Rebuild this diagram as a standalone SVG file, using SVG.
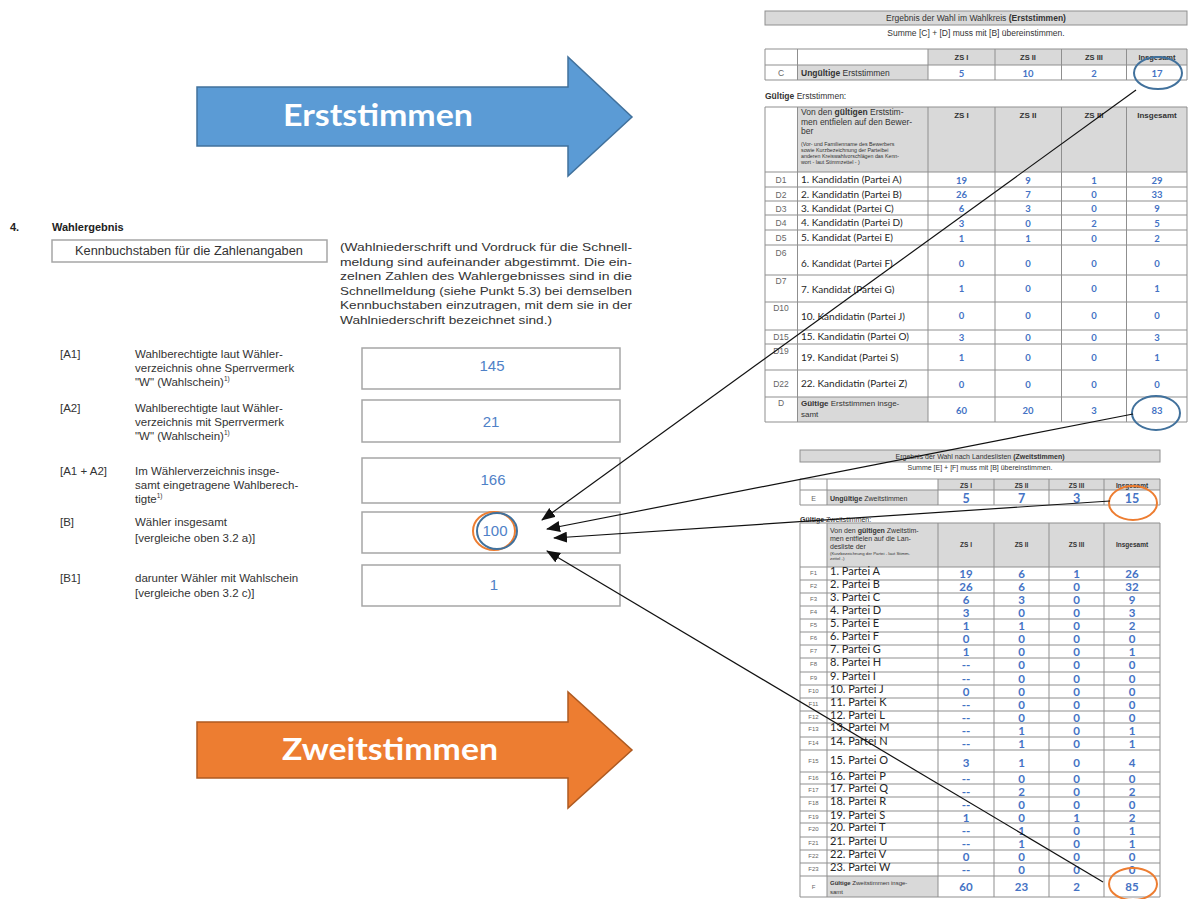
<svg xmlns="http://www.w3.org/2000/svg" width="1192" height="899" viewBox="0 0 1192 899">
<style>
.bg{fill:#ffffff}
.ar{font-family:Lato,'Open Sans',sans-serif;font-weight:bold;fill:#ffffff;text-anchor:middle}
.fs{font-family:'Liberation Sans',Arial,sans-serif;fill:#333333}
.fb{font-family:'Liberation Sans',Arial,sans-serif;fill:#222222;font-weight:bold}
.box{fill:#ffffff;stroke:#a6a6a6;stroke-width:1.5}
.val{font-family:'Liberation Sans',Arial,sans-serif;fill:#4f81c7;font-size:15px;text-anchor:middle}
.hdr{fill:#d9d9d9}
.grid{fill:none;stroke:#8f8f8f;stroke-width:1}
.tt{font-family:'Liberation Sans',Arial,sans-serif;fill:#333333;text-anchor:middle}
.lab{font-family:'Liberation Sans',Arial,sans-serif;fill:#666666;text-anchor:middle}
.nm{font-family:Lato,'Liberation Sans',sans-serif;fill:#262626}
.num{font-family:Lato,'Liberation Sans',sans-serif;font-weight:bold;fill:#4472c4;text-anchor:middle}
.ch{font-family:'Liberation Sans',Arial,sans-serif;font-weight:bold;fill:#333333;text-anchor:middle}
.blue{fill:none;stroke:#41719c;stroke-width:2}
.orange{fill:none;stroke:#ed7d31;stroke-width:2}
.con{fill:none;stroke:#111111;stroke-width:1.2;marker-end:url(#ah)}
</style>
<defs>
<marker id="ah" markerUnits="userSpaceOnUse" markerWidth="14" markerHeight="11" refX="13" refY="5.5" orient="auto">
<path d="M0,0 L14,5.5 L0,11 z" fill="#111111"/>
</marker>
</defs>
<rect class="bg" x="0" y="0" width="1192" height="899"/>

<g id="arrow-erststimmen">
<polygon points="197,87 568,87 568,57 632,117 568,176 568,146 197,146" fill="#5b9bd5" stroke="#41719c" stroke-width="1.5"/>
<text class="ar" x="378" y="126" font-size="30" textLength="190" lengthAdjust="spacingAndGlyphs">Erststimmen</text>
</g>

<g id="arrow-zweitstimmen">
<polygon points="197,722 568,722 568,692 632,750 568,808 568,778 197,778" fill="#ed7d31" stroke="#ae5a21" stroke-width="1.5"/>
<text class="ar" x="390" y="760" font-size="30" textLength="216" lengthAdjust="spacingAndGlyphs">Zweitstimmen</text>
</g>

<g id="form-wahlergebnis">
<text class="fb" x="10" y="231" font-size="11">4.</text>
<text class="fb" x="52" y="231" font-size="11">Wahlergebnis</text>
<rect x="52" y="240" width="275" height="22" fill="#ffffff" stroke="#a6a6a6" stroke-width="1.5"/>
<text class="fs" x="75" y="255" font-size="12" textLength="228" lengthAdjust="spacingAndGlyphs">Kennbuchstaben für die Zahlenangaben</text>
<g class="fs" font-size="11.5">
<text x="340" y="251" textLength="292" lengthAdjust="spacingAndGlyphs">(Wahlniederschrift und Vordruck für die Schnell-</text>
<text x="340" y="265.5" textLength="292" lengthAdjust="spacingAndGlyphs">meldung sind aufeinander abgestimmt. Die ein-</text>
<text x="340" y="280" textLength="292" lengthAdjust="spacingAndGlyphs">zelnen Zahlen des Wahlergebnisses sind in die</text>
<text x="340" y="294.5" textLength="292" lengthAdjust="spacingAndGlyphs">Schnellmeldung (siehe Punkt 5.3) bei demselben</text>
<text x="340" y="309" textLength="292" lengthAdjust="spacingAndGlyphs">Kennbuchstaben einzutragen, mit dem sie in der</text>
<text x="340" y="323.5" textLength="212" lengthAdjust="spacingAndGlyphs">Wahlniederschrift bezeichnet sind.)</text>
</g>
<g class="fs" font-size="11.5">
<text x="60" y="358">[A1]</text>
<text x="135" y="358">Wahlberechtigte laut Wähler-</text>
<text x="135" y="372">verzeichnis ohne Sperrvermerk</text>
<text x="135" y="386">"W" (Wahlschein)<tspan font-size="6.5" dy="-5">1)</tspan></text>
<text x="60" y="412">[A2]</text>
<text x="135" y="412">Wahlberechtigte laut Wähler-</text>
<text x="135" y="426">verzeichnis mit Sperrvermerk</text>
<text x="135" y="440">"W" (Wahlschein)<tspan font-size="6.5" dy="-5">1)</tspan></text>
<text x="60" y="475">[A1 + A2]</text>
<text x="135" y="475">Im Wählerverzeichnis insge-</text>
<text x="135" y="489">samt eingetragene Wahlberech-</text>
<text x="135" y="503">tigte<tspan font-size="6.5" dy="-5">1)</tspan></text>
<text x="60" y="526">[B]</text>
<text x="135" y="526">Wähler insgesamt</text>
<text x="135" y="542">[vergleiche oben 3.2 a)]</text>
<text x="60" y="582">[B1]</text>
<text x="135" y="582">darunter Wähler mit Wahlschein</text>
<text x="135" y="597">[vergleiche oben 3.2 c)]</text>
</g>
<rect class="box" x="362" y="348" width="258" height="41"/>
<rect class="box" x="362" y="400" width="258" height="42"/>
<rect class="box" x="362" y="458" width="258" height="45"/>
<rect class="box" x="362" y="512" width="258" height="41"/>
<rect class="box" x="362" y="565" width="258" height="41"/>
<text class="val" x="492" y="371">145</text>
<text class="val" x="491" y="427">21</text>
<text class="val" x="493" y="485">166</text>
<text class="val" x="495" y="536">100</text>
<text class="val" x="494" y="590">1</text>
</g>

<g id="table-erststimmen">
<rect x="765" y="11" width="422" height="14" fill="#d9d9d9" stroke="#8f8f8f"/>
<text class="tt" x="976" y="21" font-size="8.5">Ergebnis der Wahl im Wahlkreis <tspan font-weight="bold">(Erststimmen)</tspan></text>
<text class="tt" x="976" y="35.5" font-size="8.5">Summe [C] + [D] muss mit [B] übereinstimmen.</text>
<rect class="hdr" x="928" y="49" width="259" height="16"/>
<rect class="hdr" x="797.5" y="65" width="130.5" height="15"/>
<path class="grid" d="M765,49H1187M765,65H1187M765,80H1187M765,49V80M797.5,49V80M928,49V80M995,49V80M1061.5,49V80M1126.5,49V80M1187,49V80"/>
<g class="ch" font-size="7.5">
<text x="961.5" y="60">ZS I</text><text x="1028" y="60">ZS II</text><text x="1094" y="60">ZS III</text><text x="1157" y="60">Insgesamt</text>
</g>
<text class="lab" x="781" y="75.5" font-size="8.5">C</text>
<text class="fs" x="801" y="75.5" font-size="8.5"><tspan font-weight="bold">Ungültige</tspan> Erststimmen</text>
<text class="num" y="76.5" font-size="9.5"><tspan x="961.5">5</tspan><tspan x="1028">10</tspan><tspan x="1094">2</tspan><tspan x="1157">17</tspan></text>

<text class="fs" x="765" y="99" font-size="8.5"><tspan font-weight="bold">Gültige</tspan> Erststimmen:</text>
<rect class="hdr" x="797.5" y="107" width="389.5" height="65"/>
<rect class="hdr" x="797.5" y="397" width="130.5" height="25"/>
<path class="grid" d="M765,107H1187M765,172H1187M765,187H1187M765,201H1187M765,215H1187M765,230H1187M765,245H1187M765,275H1187M765,302H1187M765,330H1187M765,344H1187M765,370H1187M765,397H1187M765,422H1187M765,107V422M797.5,107V422M928,107V422M995,107V422M1061.5,107V422M1126.5,107V422M1187,107V422"/>
<g class="fs" font-size="8.5">
<text x="801" y="115">Von den <tspan font-weight="bold">gültigen</tspan> Erststim-</text>
<text x="801" y="124.5">men entfielen auf den Bewer-</text>
<text x="801" y="134">ber</text>
</g>
<g class="fs" font-size="5.3">
<text x="801" y="146">(Vor- und Familienname des Bewerbers</text>
<text x="801" y="152">sowie Kurzbezeichnung der Parteibei</text>
<text x="801" y="158">anderen Kreiswahlvorschlägen das Kenn-</text>
<text x="801" y="164">wort - laut Stimmzettel - )</text>
</g>
<g class="ch" font-size="8">
<text x="961.5" y="118">ZS I</text><text x="1028" y="118">ZS II</text><text x="1094" y="118">ZS III</text><text x="1157" y="118">Insgesamt</text>
</g>
<g class="lab" font-size="8.5">
<text x="781" y="183">D1</text><text x="781" y="197.5">D2</text><text x="781" y="211.5">D3</text><text x="781" y="226">D4</text><text x="781" y="241">D5</text>
<text x="781" y="256">D6</text><text x="781" y="283.5">D7</text><text x="781" y="311">D10</text><text x="781" y="340">D15</text><text x="781" y="353.5">D19</text><text x="781" y="386.5">D22</text><text x="781" y="406">D</text>
</g>
<g class="nm" font-size="10">
<text x="801" y="183">1. Kandidatin (Partei A)</text>
<text x="801" y="197.5">2. Kandidatin (Partei B)</text>
<text x="801" y="211.5">3. Kandidat (Partei C)</text>
<text x="801" y="226">4. Kandidatin (Partei D)</text>
<text x="801" y="241">5. Kandidat (Partei E)</text>
<text x="801" y="267">6. Kandidat (Partei F)</text>
<text x="801" y="292.5">7. Kandidat (Partei G)</text>
<text x="801" y="320">10. Kandidatin (Partei J)</text>
<text x="801" y="340">15. Kandidatin (Partei O)</text>
<text x="801" y="361">19. Kandidat (Partei S)</text>
<text x="801" y="386.5">22. Kandidatin (Partei Z)</text>
</g>
<text class="fs" x="801" y="406" font-size="8"><tspan font-weight="bold">Gültige</tspan> Erststimmen insge-</text>
<text class="fs" x="801" y="417" font-size="8">samt</text>
<g class="num" font-size="9.5">
<text y="183.5"><tspan x="961.5">19</tspan><tspan x="1028">9</tspan><tspan x="1094">1</tspan><tspan x="1157">29</tspan></text>
<text y="198"><tspan x="961.5">26</tspan><tspan x="1028">7</tspan><tspan x="1094">0</tspan><tspan x="1157">33</tspan></text>
<text y="212"><tspan x="961.5">6</tspan><tspan x="1028">3</tspan><tspan x="1094">0</tspan><tspan x="1157">9</tspan></text>
<text y="226.5"><tspan x="961.5">3</tspan><tspan x="1028">0</tspan><tspan x="1094">2</tspan><tspan x="1157">5</tspan></text>
<text y="241.5"><tspan x="961.5">1</tspan><tspan x="1028">1</tspan><tspan x="1094">0</tspan><tspan x="1157">2</tspan></text>
<text y="266.5"><tspan x="961.5">0</tspan><tspan x="1028">0</tspan><tspan x="1094">0</tspan><tspan x="1157">0</tspan></text>
<text y="292"><tspan x="961.5">1</tspan><tspan x="1028">0</tspan><tspan x="1094">0</tspan><tspan x="1157">1</tspan></text>
<text y="319"><tspan x="961.5">0</tspan><tspan x="1028">0</tspan><tspan x="1094">0</tspan><tspan x="1157">0</tspan></text>
<text y="340.5"><tspan x="961.5">3</tspan><tspan x="1028">0</tspan><tspan x="1094">0</tspan><tspan x="1157">3</tspan></text>
<text y="360.5"><tspan x="961.5">1</tspan><tspan x="1028">0</tspan><tspan x="1094">0</tspan><tspan x="1157">1</tspan></text>
<text y="387.5"><tspan x="961.5">0</tspan><tspan x="1028">0</tspan><tspan x="1094">0</tspan><tspan x="1157">0</tspan></text>
<text y="413.5"><tspan x="961.5">60</tspan><tspan x="1028">20</tspan><tspan x="1094">3</tspan><tspan x="1157">83</tspan></text>
</g>
</g>

<g id="table-zweitstimmen">
<rect x="800" y="450" width="360" height="12" fill="#d9d9d9" stroke="#8f8f8f"/>
<text class="tt" x="980" y="459" font-size="7">Ergebnis der Wahl nach Landeslisten <tspan font-weight="bold">(Zweitstimmen)</tspan></text>
<text class="tt" x="980" y="469.5" font-size="7">Summe [E] + [F] muss mit [B] übereinstimmen.</text>
<rect class="hdr" x="938" y="479" width="222" height="11"/>
<rect class="hdr" x="827" y="490" width="111" height="15"/>
<path class="grid" d="M800,479H1160M800,490H1160M800,505H1160M800,479V505M827,479V505M938,479V505M994,479V505M1049,479V505M1104,479V505M1160,479V505"/>
<g class="ch" font-size="6.5">
<text x="966" y="487.5">ZS I</text><text x="1021.5" y="487.5">ZS II</text><text x="1076.5" y="487.5">ZS III</text><text x="1132" y="487.5">Insgesamt</text>
</g>
<text class="lab" x="813.5" y="500.5" font-size="7">E</text>
<text class="fs" x="830" y="500.5" font-size="7"><tspan font-weight="bold">Ungültige</tspan> Zweitstimmen</text>
<text class="num" y="502.5" font-size="12.5"><tspan x="966">5</tspan><tspan x="1021.5">7</tspan><tspan x="1076.5">3</tspan><tspan x="1132">15</tspan></text>

<text class="fs" x="800" y="522" font-size="7"><tspan font-weight="bold">Gültige</tspan> Zweitstimmen:</text>
<rect class="hdr" x="827" y="523" width="333" height="44"/>
<rect class="hdr" x="827" y="876" width="111" height="21"/>
<path class="grid" d="M800,523H1160M800,567H1160M800,580H1160M800,593H1160M800,606H1160M800,619H1160M800,632H1160M800,645H1160M800,658H1160M800,672H1160M800,685H1160M800,698H1160M800,711H1160M800,723H1160M800,737H1160M800,750H1160M800,772H1160M800,784H1160M800,797H1160M800,811H1160M800,823H1160M800,837H1160M800,850H1160M800,863H1160M800,876H1160M800,897H1160M800,523V897M827,523V897M938,523V897M994,523V897M1049,523V897M1104,523V897M1160,523V897"/>
<g class="fs" font-size="7">
<text x="830" y="532.5">Von den <tspan font-weight="bold">gültigen</tspan> Zweitstim-</text>
<text x="830" y="540.5">men entfielen auf die Lan-</text>
<text x="830" y="548.5">desliste der</text>
</g>
<g class="fs" font-size="4.3">
<text x="830" y="554.5">(Kurzbezeichnung der Partei - laut Stimm-</text>
<text x="830" y="559.5">zettel -)</text>
</g>
<g class="ch" font-size="6.5">
<text x="966" y="547">ZS I</text><text x="1021.5" y="547">ZS II</text><text x="1076.5" y="547">ZS III</text><text x="1132" y="547">Insgesamt</text>
</g>
<g class="lab" font-size="6">
<text x="813.5" y="575">F1</text><text x="813.5" y="588">F2</text><text x="813.5" y="601">F3</text><text x="813.5" y="614">F4</text><text x="813.5" y="627">F5</text><text x="813.5" y="640">F6</text><text x="813.5" y="653">F7</text><text x="813.5" y="666">F8</text><text x="813.5" y="680">F9</text><text x="813.5" y="693">F10</text><text x="813.5" y="706">F11</text><text x="813.5" y="719">F12</text><text x="813.5" y="731">F13</text><text x="813.5" y="745">F14</text><text x="813.5" y="763">F15</text><text x="813.5" y="780">F16</text><text x="813.5" y="792">F17</text><text x="813.5" y="805">F18</text><text x="813.5" y="819">F19</text><text x="813.5" y="831">F20</text><text x="813.5" y="845">F21</text><text x="813.5" y="858">F22</text><text x="813.5" y="871">F23</text><text x="813.5" y="889">F</text>
</g>
<g class="nm" font-size="11">
<text x="830" y="575">1. Partei A</text><text x="830" y="588">2. Partei B</text><text x="830" y="601">3. Partei C</text><text x="830" y="614">4. Partei D</text><text x="830" y="627">5. Partei E</text><text x="830" y="640">6. Partei F</text><text x="830" y="653">7. Partei G</text><text x="830" y="666">8. Partei H</text><text x="830" y="680">9. Partei I</text><text x="830" y="693">10. Partei J</text><text x="830" y="706">11. Partei K</text><text x="830" y="719">12. Partei L</text><text x="830" y="731">13. Partei M</text><text x="830" y="745">14. Partei N</text><text x="830" y="764">15. Partei O</text><text x="830" y="780">16. Partei P</text><text x="830" y="792">17. Partei Q</text><text x="830" y="805">18. Partei R</text><text x="830" y="819">19. Partei S</text><text x="830" y="831">20. Partei T</text><text x="830" y="845">21. Partei U</text><text x="830" y="858">22. Partei V</text><text x="830" y="871">23. Partei W</text>
</g>
<text class="fs" x="830" y="885" font-size="6"><tspan font-weight="bold">Gültige</tspan> Zweitstimmen insge-</text>
<text class="fs" x="830" y="894" font-size="6">samt</text>
<g class="num" font-size="11.5">
<text y="578"><tspan x="966">19</tspan><tspan x="1021.5">6</tspan><tspan x="1076.5">1</tspan><tspan x="1132">26</tspan></text>
<text y="591"><tspan x="966">26</tspan><tspan x="1021.5">6</tspan><tspan x="1076.5">0</tspan><tspan x="1132">32</tspan></text>
<text y="604"><tspan x="966">6</tspan><tspan x="1021.5">3</tspan><tspan x="1076.5">0</tspan><tspan x="1132">9</tspan></text>
<text y="617"><tspan x="966">3</tspan><tspan x="1021.5">0</tspan><tspan x="1076.5">0</tspan><tspan x="1132">3</tspan></text>
<text y="630"><tspan x="966">1</tspan><tspan x="1021.5">1</tspan><tspan x="1076.5">0</tspan><tspan x="1132">2</tspan></text>
<text y="643"><tspan x="966">0</tspan><tspan x="1021.5">0</tspan><tspan x="1076.5">0</tspan><tspan x="1132">0</tspan></text>
<text y="656"><tspan x="966">1</tspan><tspan x="1021.5">0</tspan><tspan x="1076.5">0</tspan><tspan x="1132">1</tspan></text>
<text y="669"><tspan x="966">--</tspan><tspan x="1021.5">0</tspan><tspan x="1076.5">0</tspan><tspan x="1132">0</tspan></text>
<text y="683"><tspan x="966">--</tspan><tspan x="1021.5">0</tspan><tspan x="1076.5">0</tspan><tspan x="1132">0</tspan></text>
<text y="696"><tspan x="966">0</tspan><tspan x="1021.5">0</tspan><tspan x="1076.5">0</tspan><tspan x="1132">0</tspan></text>
<text y="709"><tspan x="966">--</tspan><tspan x="1021.5">0</tspan><tspan x="1076.5">0</tspan><tspan x="1132">0</tspan></text>
<text y="721.5"><tspan x="966">--</tspan><tspan x="1021.5">0</tspan><tspan x="1076.5">0</tspan><tspan x="1132">0</tspan></text>
<text y="734.5"><tspan x="966">--</tspan><tspan x="1021.5">1</tspan><tspan x="1076.5">0</tspan><tspan x="1132">1</tspan></text>
<text y="748"><tspan x="966">--</tspan><tspan x="1021.5">1</tspan><tspan x="1076.5">0</tspan><tspan x="1132">1</tspan></text>
<text y="767"><tspan x="966">3</tspan><tspan x="1021.5">1</tspan><tspan x="1076.5">0</tspan><tspan x="1132">4</tspan></text>
<text y="782.5"><tspan x="966">--</tspan><tspan x="1021.5">0</tspan><tspan x="1076.5">0</tspan><tspan x="1132">0</tspan></text>
<text y="795.5"><tspan x="966">--</tspan><tspan x="1021.5">2</tspan><tspan x="1076.5">0</tspan><tspan x="1132">2</tspan></text>
<text y="808.5"><tspan x="966">--</tspan><tspan x="1021.5">0</tspan><tspan x="1076.5">0</tspan><tspan x="1132">0</tspan></text>
<text y="821.5"><tspan x="966">1</tspan><tspan x="1021.5">0</tspan><tspan x="1076.5">1</tspan><tspan x="1132">2</tspan></text>
<text y="834.5"><tspan x="966">--</tspan><tspan x="1021.5">1</tspan><tspan x="1076.5">0</tspan><tspan x="1132">1</tspan></text>
<text y="848"><tspan x="966">--</tspan><tspan x="1021.5">1</tspan><tspan x="1076.5">0</tspan><tspan x="1132">1</tspan></text>
<text y="861"><tspan x="966">0</tspan><tspan x="1021.5">0</tspan><tspan x="1076.5">0</tspan><tspan x="1132">0</tspan></text>
<text y="874"><tspan x="966">--</tspan><tspan x="1021.5">0</tspan><tspan x="1076.5">0</tspan><tspan x="1132">0</tspan></text>
<text y="891"><tspan x="966">60</tspan><tspan x="1021.5">23</tspan><tspan x="1076.5">2</tspan><tspan x="1132">85</tspan></text>
</g>
</g>

<g id="highlights">
<ellipse class="blue" cx="1158" cy="73" rx="24" ry="16"/>
<ellipse class="blue" cx="1156" cy="413" rx="24" ry="17"/>
<ellipse class="orange" cx="1133" cy="503" rx="24" ry="17"/>
<ellipse class="orange" cx="1133" cy="884" rx="24" ry="16"/>
<ellipse class="orange" cx="494" cy="531" rx="21" ry="19"/>
<ellipse class="blue" cx="497" cy="531" rx="20" ry="18"/>
</g>

<g id="connectors">
<path class="con" d="M1136,90 L542,520"/>
<path class="con" d="M1133,414 L547,529"/>
<path class="con" d="M1110,501 L554,538"/>
<path class="con" d="M1103,882 L547,551"/>
</g>
</svg>
